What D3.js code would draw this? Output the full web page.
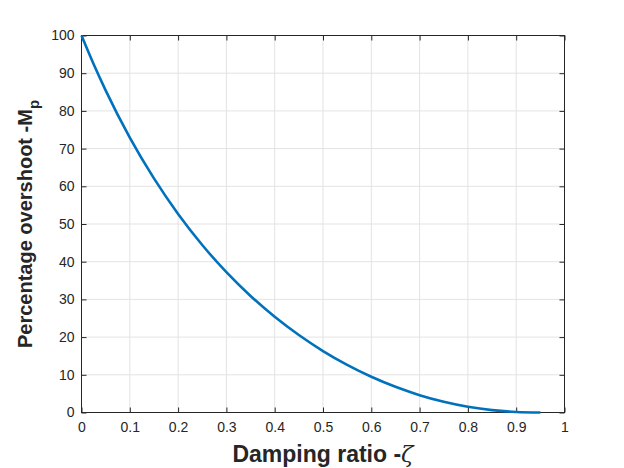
<!DOCTYPE html>
<html><head><meta charset="utf-8">
<script src="https://cdn.jsdelivr.net/npm/d3@7"></script>
<style>body{margin:0;background:#fff}svg{display:block}</style>
</head><body><svg id="c" width="624" height="468"></svg>
<script>
const zeta = [0,0.025,0.05,0.1,0.15,0.2,0.25,0.3,0.35,0.4,0.45,0.5,0.55,0.6,0.65,0.7,0.75,0.8,0.85,0.9,0.95];
const overshoot = [100,92.44,85.45,72.92,62.09,52.66,44.43,37.23,30.92,25.38,20.54,16.30,12.63,9.48,6.81,4.60,2.84,1.52,0.63,0.15,0.01];
const xTicks = [0,0.1,0.2,0.3,0.4,0.5,0.6,0.7,0.8,0.9,1];
const yTicks = [0,10,20,30,40,50,60,70,80,90,100];

const L=81.5, R=564.5, T=35.5, B=412.5;
const svg = d3.select("#c");
const x = d3.scaleLinear().domain([0,1]).range([L,R]);
const y = d3.scaleLinear().domain([0,100]).range([B,T]);
const font = "'Liberation Sans', Arial, Helvetica, sans-serif";

// grid
svg.append("g").selectAll("line").data(xTicks.slice(1,-1)).join("line")
  .attr("x1",d=>x(d)).attr("x2",d=>x(d)).attr("y1",T).attr("y2",B)
  .attr("stroke","#e3e3e3").attr("stroke-width",1);
svg.append("g").selectAll("line").data(yTicks.slice(1,-1)).join("line")
  .attr("y1",d=>y(d)).attr("y2",d=>y(d)).attr("x1",L).attr("x2",R)
  .attr("stroke","#e3e3e3").attr("stroke-width",1);

const tickStyle = g => {
  g.select(".domain").remove();
  g.selectAll(".tick line").attr("stroke","#262626");
  g.selectAll(".tick text").attr("fill","#262626").attr("font-family",font).attr("font-size","14px");
};
svg.append("g").attr("transform",`translate(0,${B})`)
  .call(d3.axisBottom(x).tickValues(xTicks).tickFormat(d3.format("")).tickSizeInner(-5).tickPadding(10)).call(tickStyle);
svg.append("g").attr("transform",`translate(0,${T})`)
  .call(d3.axisTop(x).tickValues(xTicks).tickFormat("").tickSizeInner(-5)).call(tickStyle);
svg.append("g").attr("transform",`translate(${L},0)`)
  .call(d3.axisLeft(y).tickValues(yTicks).tickFormat(d3.format("")).tickSizeInner(-5).tickPadding(7)).call(tickStyle);
svg.append("g").attr("transform",`translate(${R},0)`)
  .call(d3.axisRight(y).tickValues(yTicks).tickFormat("").tickSizeInner(-5)).call(tickStyle);

// box
svg.append("rect").attr("x",L).attr("y",T).attr("width",R-L).attr("height",B-T)
  .attr("fill","none").attr("stroke","#262626").attr("stroke-width",1);

// curve
const pts = zeta.map((z,i)=>[z,overshoot[i]]);
svg.append("path").datum(pts)
  .attr("d", d3.line().x(d=>x(d[0])).y(d=>y(d[1])).curve(d3.curveMonotoneX))
  .attr("fill","none").attr("stroke","#0072BD").attr("stroke-width",2.6);

// labels
const xl = svg.append("text").attr("x",(L+R)/2).attr("y",462).attr("text-anchor","middle")
  .attr("font-family",font).attr("font-weight","bold").attr("font-size","23px").attr("fill","#262626");
xl.append("tspan").text("Damping ratio -");
xl.append("tspan").attr("font-style","italic").attr("font-weight","normal").attr("font-family","'DejaVu Serif', serif").text("ζ");
const yl = svg.append("text").attr("transform",`translate(32,${(T+B)/2}) rotate(-90)`).attr("text-anchor","middle")
  .attr("font-family",font).attr("font-weight","bold").attr("font-size","20px").attr("fill","#262626");
yl.append("tspan").text("Percentage overshoot -M");
yl.append("tspan").attr("dy",7).attr("font-size","15px").text("p");
</script></body></html>
